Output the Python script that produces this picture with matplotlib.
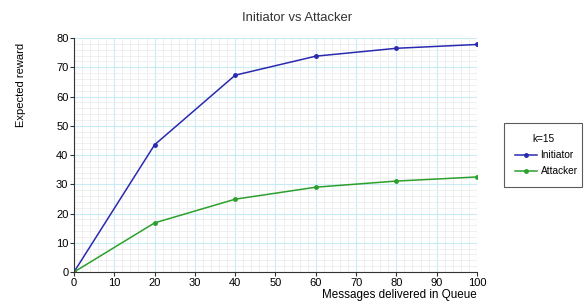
import matplotlib
matplotlib.use("Agg")
import matplotlib.pyplot as plt
from matplotlib.ticker import MultipleLocator

plt.rcParams['font.family'] = ['Liberation Sans', 'DejaVu Sans']

# data
messages = [0, 20, 40, 60, 80, 100]
initiator = [0, 43.5, 67.3, 73.8, 76.5, 77.8]
attacker = [0, 16.8, 24.9, 29.0, 31.1, 32.5]

fig = plt.figure(figsize=(5.84, 3.02), dpi=100)
ax = fig.add_axes([0.1267, 0.0993, 0.69, 0.7747])

ax.plot(messages, initiator, color="#2a2ab0", marker="o", markersize=2.5,
        linewidth=1.1, label="Initiator")
ax.plot(messages, attacker, color="#2ca02c", marker="o", markersize=2.5,
        linewidth=1.1, label="Attacker")

ax.set_xlim(0, 100)
ax.set_ylim(0, 80)
ax.xaxis.set_major_locator(MultipleLocator(10))
ax.yaxis.set_major_locator(MultipleLocator(10))
ax.xaxis.set_minor_locator(MultipleLocator(2))
ax.yaxis.set_minor_locator(MultipleLocator(2))
ax.grid(which="major", color="#c8ecf4", linewidth=0.8)
ax.grid(which="minor", color="#ececec", linewidth=0.6)
ax.set_axisbelow(True)
ax.tick_params(which="minor", length=0)
ax.tick_params(which="major", length=3, labelsize=8, color="#333333", pad=1)

for s in ["top", "right"]:
    ax.spines[s].set_visible(False)
for s in ["left", "bottom"]:
    ax.spines[s].set_color("#333333")

# title is centred on the whole figure, not the axes
fig.text(0.508, 0.94, "Initiator vs Attacker", fontsize=9.4, color="#333333",
         ha="center", va="center")
ax.set_xlabel("Messages delivered in Queue", fontsize=8.4, loc="right", labelpad=1)
# y label sits up near the top in the original
fig.text(0.036, 0.72, "Expected reward", fontsize=8, rotation=90,
         ha="center", va="center")

leg = fig.legend(title="k=15", loc="upper left",
                 bbox_to_anchor=(504 / 584, 1 - 123 / 302 - 0.01, 78 / 584, 0.01),
                 mode="expand", fontsize=7.3, title_fontsize=7.3, frameon=True,
                 fancybox=False, edgecolor="#333333", handlelength=2.2,
                 handletextpad=0.3, borderpad=1.1, labelspacing=0.6,
                 borderaxespad=0)
leg.get_frame().set_linewidth(0.8)

fig.savefig("out.png", dpi=100)
